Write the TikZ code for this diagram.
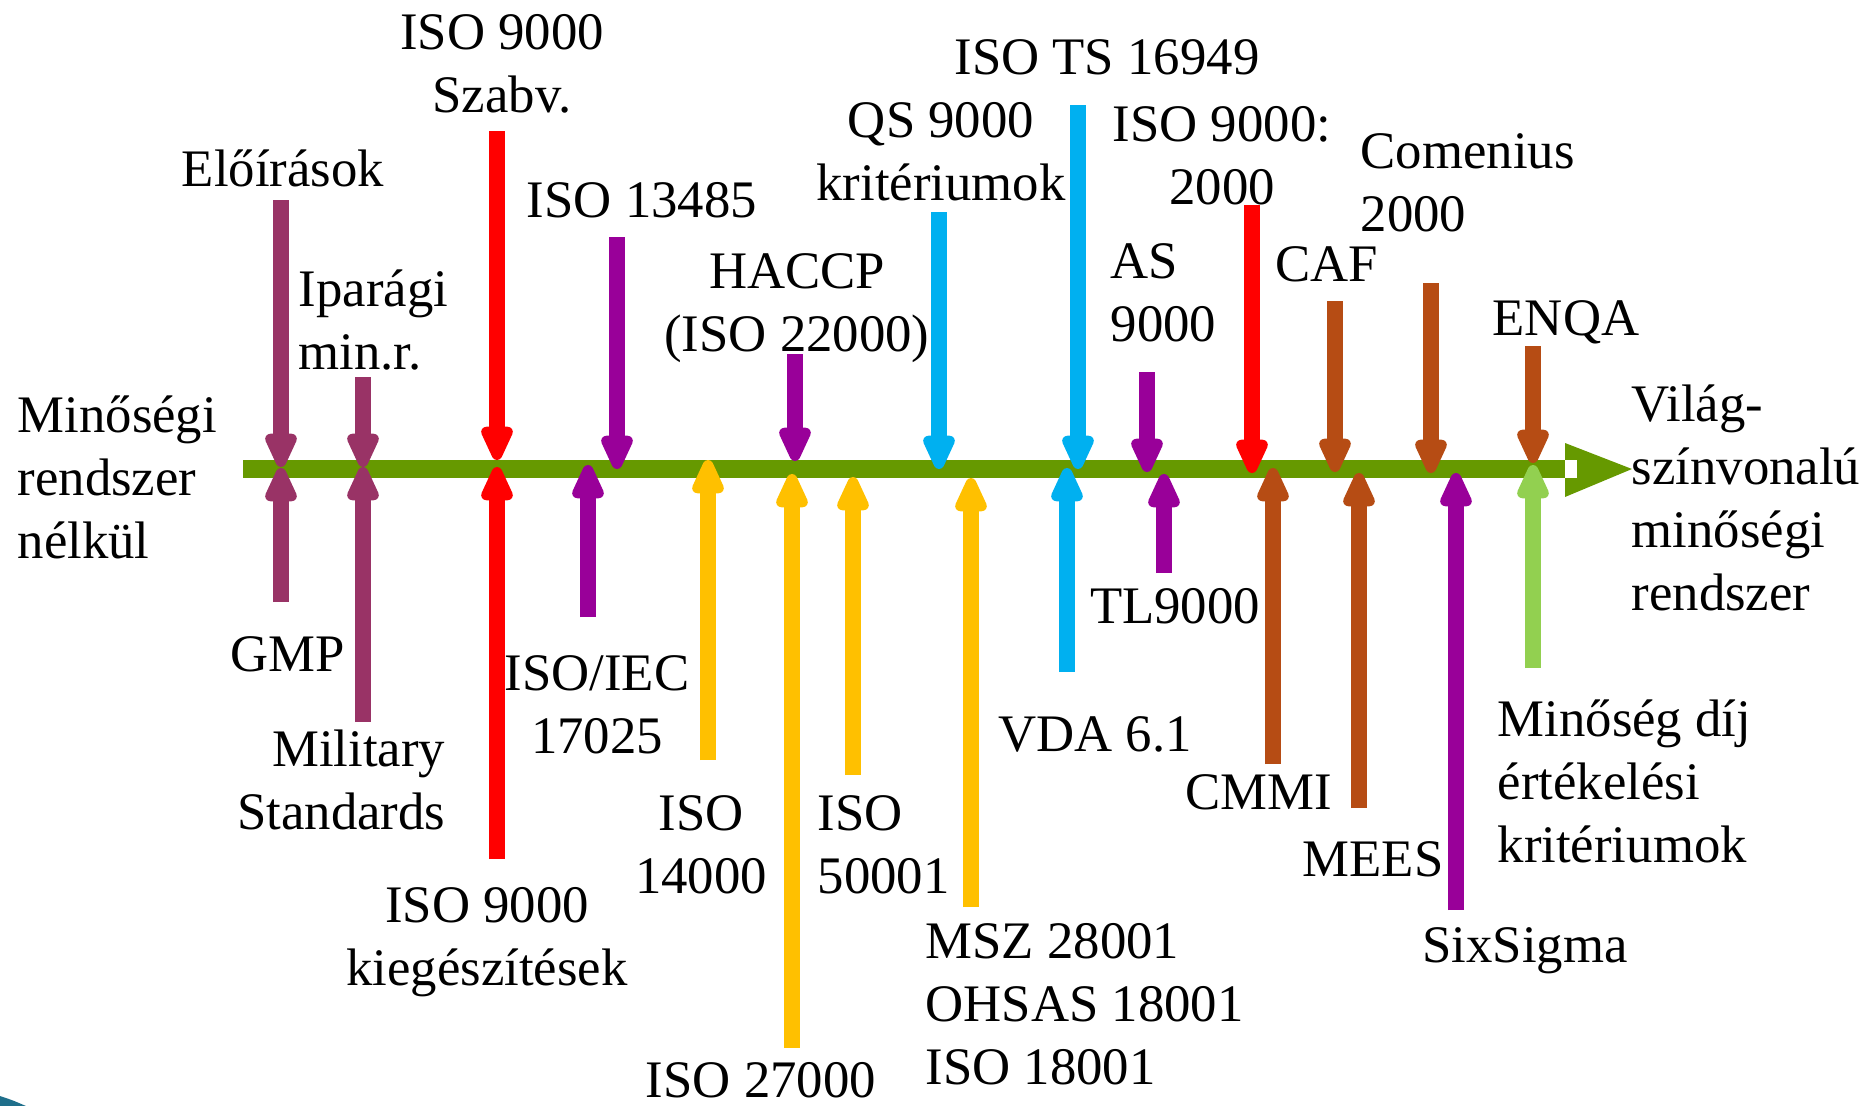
\documentclass[tikz,border=0pt]{standalone}
\usepackage{fontspec}
\setmainfont{Liberation Serif}
\usetikzlibrary{arrows.meta}

\definecolor{szilva}{HTML}{993366}
\definecolor{piros}{HTML}{FF0000}
\definecolor{lila}{HTML}{990099}
\definecolor{sarga}{HTML}{FFC000}
\definecolor{kek}{HTML}{00B0F0}
\definecolor{barna}{HTML}{B64C14}
\definecolor{vzold}{HTML}{92D050}
\definecolor{tzold}{HTML}{669900}
\definecolor{sarok}{HTML}{1F6F8B}

\tikzset{
  nyil/.style={line width=4.3pt, -{Triangle[width=0.34cm,length=0.42cm,round]}},
  cimke/.style={font=\fontsize{15}{17.9}\selectfont, inner sep=0pt, align=center},
}

\begin{document}
\begin{tikzpicture}[x=0.01cm,y=-0.01cm]
      \useasboundingbox (0,0) rectangle (1871,1106);
      \fill[sarok] (0,1096) .. controls (12,1100) .. (26,1106) -- (0,1106) -- cycle;
      
      %主轴
      \coordinate (t-a) at (243,469);
      \coordinate (t-b) at (1565,469);
      \coordinate (t-c) at (1632,469);
      \draw[tzold, line width=5.1pt] (t-a) -- (t-b);
      \fill[tzold] (1565,443) -- (t-c) -- (1565,497) -- cycle;
      \fill[white] (1565,460) rectangle (1577,478);
      
      %上方箭头
      \foreach \x/\a/\b/\c/\n in {281/200/467/szilva/eloir, 363/377/467/szilva/ipar,
      	497/131/460/piros/szabv, 617/237/469/lila/isoa, 795/354/461/lila/haccp,
      	939/212/469/kek/qs, 1078/105/469/kek/ts, 1147/372/472/lila/as,
      	1252/205/473/piros/ketezer, 1335/301/472/barna/caf, 1431/283/473/barna/comen,
      	1533/346/463/barna/enqa}  {
      	\coordinate (\n-s) at (\x,\a);
      	\coordinate (\n-e) at (\x,\b);
      	\draw[nyil,\c] (\n-s) -- (\n-e);
      }
      
      %下方箭头
      \foreach \x/\a/\b/\c/\n in {281/602/468/szilva/gmp, 363/722/467/szilva/mil,
      	497/859/467/piros/kieg, 588/617/465/lila/iec, 708/760/460/sarga/isob,
      	792/1048/474/sarga/isoc, 853/775/477/sarga/isod, 971/907/478/sarga/msz,
      	1067/672/468/kek/vda, 1164/573/474/lila/tl, 1273/764/468/barna/cmmi,
      	1359/808/473/barna/mees, 1456/910/473/lila/six, 1533/668/465/vzold/dij}  {
      	\coordinate (\n-s) at (\x,\a);
      	\coordinate (\n-e) at (\x,\b);
      	\draw[nyil,\c] (\n-s) -- (\n-e);
      }
      
      %文字
      \node[cimke,anchor=west,align=left] (bal) at (17,477) {Minőségi\\rendszer\\nélkül};
      \node[cimke,anchor=west,align=left] (jobb) at (1631,498) {Világ-\\színvonalú\\minőségi\\rendszer};
      
      \node[cimke] (l-eloir) at (283,168) {Előírások};
      \node[cimke,anchor=west,align=left] (l-ipar) at (298,320) {Iparági\\min.r.};
      \node[cimke] (l-szabv) at (502,64) {ISO 9000\\Szabv.};
      \node[cimke] (l-isoa) at (642,200) {ISO 13485};
      \node[cimke] (l-haccp) at (797,308) {HACCP\\(ISO 22000)};
      \node[cimke] (l-qs) at (941,152) {QS 9000\\kritériumok};
      \node[cimke] (l-ts) at (1107,57) {ISO TS 16949};
      \node[cimke,anchor=west,align=left] (l-as) at (1110,293) {AS\\9000};
      \node[cimke] (l-ketezer) at (1222,156) {ISO 9000:\\2000};
      \node[cimke] (l-caf) at (1327,264) {CAF};
      \node[cimke,anchor=west,align=left] (l-comen) at (1360,183) {Comenius\\2000};
      \node[cimke] (l-enqa) at (1566,322) {ENQA};
      
      \node[cimke] (l-gmp) at (288,654) {GMP};
      \node[cimke,anchor=east,align=right] (l-mil) at (446,780) {Military\\Standards};
      \node[cimke] (l-kieg) at (487,942) {ISO 9000\\kiegészítések};
      \node[cimke] (l-iec) at (597,705) {ISO/IEC\\17025};
      \node[cimke] (l-isob) at (701,845) {ISO\\14000};
      \node[cimke] (l-isoc) at (761,1080) {ISO 27000};
      \node[cimke,anchor=west,align=left] (l-isod) at (817,845) {ISO\\50001};
      \node[cimke,anchor=west,align=left] (l-msz) at (925,1004) {MSZ 28001\\OHSAS 18001\\ISO 18001};
      \node[cimke] (l-vda) at (1095,734) {VDA 6.1};
      \node[cimke] (l-tl) at (1175,606) {TL9000};
      \node[cimke] (l-cmmi) at (1259,792) {CMMI};
      \node[cimke] (l-mees) at (1373,859) {MEES};
      \node[cimke] (l-six) at (1525,951) {SixSigma};
      \node[cimke,anchor=west,align=left] (l-dij) at (1497,781) {Minőség díj\\értékelési\\kritériumok};
      
\end{tikzpicture}
\end{document}
